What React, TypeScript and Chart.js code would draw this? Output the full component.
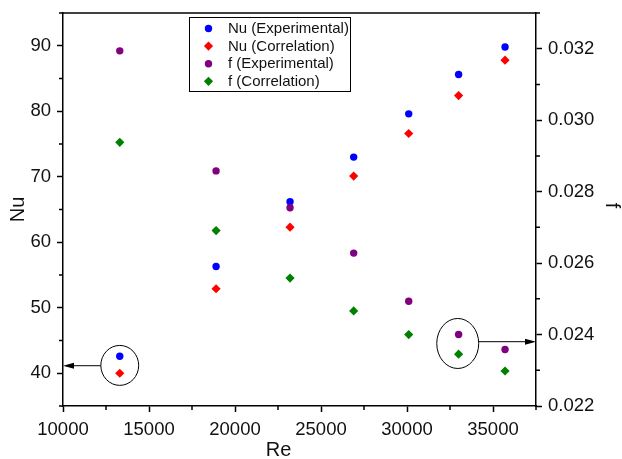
import React, { useEffect, useRef } from 'react';
import { Chart, registerables } from 'chart.js';

Chart.register(...registerables);

const FONT = '"Liberation Sans", Arial, Helvetica, sans-serif';

// Data
const RE = [13300, 18900, 23200, 26900, 30100, 33000, 35700];
const NU_EXP = [42.6, 56.3, 66.2, 73.0, 79.6, 85.6, 89.8];
const NU_CORR = [40.0, 52.9, 62.3, 70.1, 76.6, 82.4, 87.8];
const F_EXP = [0.03194, 0.02858, 0.02755, 0.02628, 0.02493, 0.024, 0.02358];
const F_CORR = [0.02938, 0.02691, 0.02558, 0.02466, 0.024, 0.02345, 0.02298];

const LABELS = ['Nu (Experimental)', 'Nu (Correlation)', 'f (Experimental)', 'f (Correlation)'];

// Ticks
const X_MAJOR = [10000, 15000, 20000, 25000, 30000, 35000];
const X_MINOR = [12500, 17500, 22500, 27500, 32500, 37500];
const NU_MAJOR = [40, 50, 60, 70, 80, 90];
const NU_MINOR = [35, 45, 55, 65, 75, 85, 95];
const F_MAJOR = [0.022, 0.024, 0.026, 0.028, 0.03, 0.032];
const F_MINOR = [0.023, 0.025, 0.027, 0.029, 0.031, 0.033];

// Annotations (data units)
const ELLIPSES = [
  { axis: 'y', cx: 13300, cy: 41.2, rx: 1100, ry: 3.05 },
  { axis: 'y1', cx: 32950, cy: 0.02375, rx: 1220, ry: 0.0007 },
];
const ARROWS = [
  { axis: 'y', x1: 12200, x2: 10000, y: 41.15 },
  { axis: 'y1', x1: 34180, x2: 37500, y: 0.0238 },
];

const AXIS_W = 1.5;

function drawMarker(ctx: CanvasRenderingContext2D, style: string, x: number, y: number, r: number, color: string) {
  ctx.save();
  ctx.fillStyle = color;
  ctx.beginPath();
  if (style === 'circle') {
    ctx.arc(x, y, r, 0, Math.PI * 2);
  } else {
    ctx.moveTo(x, y - r);
    ctx.lineTo(x + r, y);
    ctx.lineTo(x, y + r);
    ctx.lineTo(x - r, y);
    ctx.closePath();
  }
  ctx.fill();
  ctx.restore();
}

const decor = {
  id: 'decor',
  afterDraw(chart: any) {
    const ctx: CanvasRenderingContext2D = chart.ctx;
    const { left, right, top, bottom } = chart.chartArea;
    const sx = chart.scales.x;
    const sy = chart.scales.y;
    const sy1 = chart.scales.y1;
    ctx.save();
    ctx.strokeStyle = '#000';
    ctx.lineWidth = AXIS_W;
    // top border
    ctx.beginPath();
    ctx.moveTo(left, top);
    ctx.lineTo(right, top);
    ctx.stroke();
    // minor ticks
    const ML = 4;
    ctx.beginPath();
    X_MINOR.forEach((v) => {
      const px = sx.getPixelForValue(v);
      ctx.moveTo(px, bottom);
      ctx.lineTo(px, bottom + ML);
    });
    NU_MINOR.forEach((v) => {
      const py = sy.getPixelForValue(v);
      ctx.moveTo(left, py);
      ctx.lineTo(left - ML, py);
    });
    F_MINOR.forEach((v) => {
      const py = sy1.getPixelForValue(v);
      ctx.moveTo(right, py);
      ctx.lineTo(right + ML, py);
    });
    ctx.stroke();

    // annotations
    ctx.lineWidth = 1;
    ELLIPSES.forEach((e) => {
      const ys = chart.scales[e.axis];
      const cx = sx.getPixelForValue(e.cx);
      const cy = ys.getPixelForValue(e.cy);
      const rx = Math.abs(sx.getPixelForValue(e.cx + e.rx) - cx);
      const ry = Math.abs(ys.getPixelForValue(e.cy + e.ry) - cy);
      ctx.beginPath();
      ctx.ellipse(cx, cy, rx, ry, 0, 0, Math.PI * 2);
      ctx.stroke();
    });
    ARROWS.forEach((a) => {
      const ys = chart.scales[a.axis];
      const x1 = sx.getPixelForValue(a.x1);
      const x2 = sx.getPixelForValue(a.x2);
      const y = ys.getPixelForValue(a.y);
      const dir = Math.sign(x2 - x1);
      ctx.beginPath();
      ctx.moveTo(x1, y);
      ctx.lineTo(x2 - dir * 8, y);
      ctx.stroke();
      ctx.fillStyle = '#000';
      ctx.beginPath();
      ctx.moveTo(x2, y);
      ctx.lineTo(x2 - dir * 11, y - 3);
      ctx.lineTo(x2 - dir * 11, y + 3);
      ctx.closePath();
      ctx.fill();
    });

    // legend
    const lx = 189.5, ly = 17.5, lw = 161, lh = 74;
    ctx.fillStyle = '#fff';
    ctx.fillRect(lx, ly, lw, lh);
    ctx.strokeStyle = '#000';
    ctx.lineWidth = 1;
    ctx.strokeRect(lx, ly, lw, lh);
    ctx.font = `15px ${FONT}`;
    ctx.textBaseline = 'middle';
    ctx.textAlign = 'left';
    chart.data.datasets.forEach((ds: any, i: number) => {
      const yy = 28.5 + i * 17.6;
      drawMarker(ctx, ds.pointStyle, 208.5, yy, ds.pointRadius, ds.backgroundColor);
      ctx.fillStyle = '#111';
      ctx.fillText(ds.label, 228, yy + 0.5);
    });

    // axis titles
    ctx.fillStyle = '#111';
    ctx.font = `20px ${FONT}`;
    ctx.textAlign = 'center';
    ctx.textBaseline = 'middle';
    ctx.fillText('Re', left + (right - left) / 2 - 21, 450);
    ctx.save();
    ctx.translate(18, (top + bottom) / 2);
    ctx.rotate(-Math.PI / 2);
    ctx.fillText('Nu', 0, 0);
    ctx.restore();
    ctx.save();
    ctx.translate(612, (top + bottom) / 2 - 4);
    ctx.rotate(Math.PI / 2);
    ctx.fillText('f', 0, 0);
    ctx.restore();
    ctx.restore();
  },
};

export default function App() {
  const ref = useRef<HTMLCanvasElement>(null);
  useEffect(() => {
    const pts = (ys: number[]) => RE.map((x, i) => ({ x, y: ys[i] }));
    const tickFont = { family: FONT, size: 18.5 };
    const grid = {
      display: true,
      drawOnChartArea: false,
      drawTicks: true,
      tickLength: 6,
      tickWidth: AXIS_W,
      tickColor: '#000',
      color: '#000',
    };
    const border = { display: true, color: '#000', width: AXIS_W };
    const chart = new Chart(ref.current as HTMLCanvasElement, {
      type: 'scatter',
      data: {
        datasets: [
          { label: LABELS[0], data: pts(NU_EXP), yAxisID: 'y', pointStyle: 'circle', pointRadius: 3.7, backgroundColor: '#0000ff', borderWidth: 0, order: 3 },
          { label: LABELS[1], data: pts(NU_CORR), yAxisID: 'y', pointStyle: 'rectRot', pointRadius: 4.6, backgroundColor: '#ff0000', borderWidth: 0, order: 2 },
          { label: LABELS[2], data: pts(F_EXP), yAxisID: 'y1', pointStyle: 'circle', pointRadius: 3.7, backgroundColor: '#800080', borderWidth: 0, order: 0 },
          { label: LABELS[3], data: pts(F_CORR), yAxisID: 'y1', pointStyle: 'rectRot', pointRadius: 4.6, backgroundColor: '#008000', borderWidth: 0, order: 1 },
        ] as any,
      },
      options: {
        responsive: false,
        animation: false,
        events: [],
        layout: { padding: { top: 13, left: 0, right: 0, bottom: 0 } },
        plugins: { legend: { display: false }, tooltip: { enabled: false } },
        scales: {
          x: {
            type: 'linear',
            position: 'bottom',
            min: 10000,
            max: 37500,
            grid,
            border,
            afterBuildTicks: (s: any) => { s.ticks = X_MAJOR.map((value) => ({ value })); },
            afterFit: (s: any) => { s.height = 53; s.paddingLeft = 0; s.paddingRight = 0; },
            ticks: { font: tickFont, color: '#111', padding: 7, maxRotation: 0, autoSkip: false, callback: (v: any) => String(v) },
          },
          y: {
            type: 'linear',
            position: 'left',
            min: 35,
            max: 95,
            grid,
            border,
            afterBuildTicks: (s: any) => { s.ticks = NU_MAJOR.map((value) => ({ value })); },
            afterFit: (s: any) => { s.width = 63; s.paddingTop = 0; s.paddingBottom = 0; },
            ticks: { font: tickFont, color: '#111', padding: 6, autoSkip: false, callback: (v: any) => String(v) },
          },
          y1: {
            type: 'linear',
            position: 'right',
            min: 0.022,
            max: 0.033,
            grid,
            border,
            afterBuildTicks: (s: any) => { s.ticks = F_MAJOR.map((value) => ({ value })); },
            afterFit: (s: any) => { s.width = 86; s.paddingTop = 0; s.paddingBottom = 0; },
            ticks: { font: tickFont, color: '#111', padding: 6, autoSkip: false, callback: (v: any) => Number(v).toFixed(3) },
          },
        },
      } as any,
      plugins: [decor],
    });
    return () => chart.destroy();
  }, []);
  return (
    <div style={{ position: 'absolute', left: 0, top: 0, width: 622, height: 459, background: '#fff' }}>
      <canvas ref={ref} width={622} height={459} style={{ display: 'block', width: 622, height: 459 }} />
    </div>
  );
}
